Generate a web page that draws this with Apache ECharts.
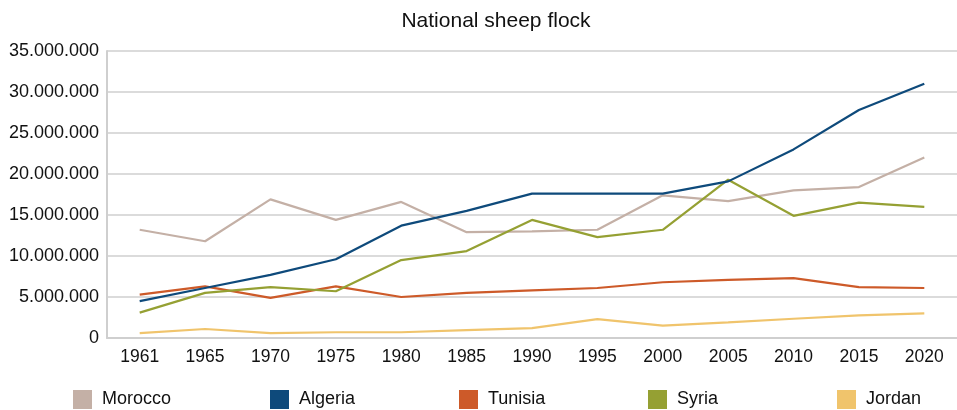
<!DOCTYPE html>
<html>
<head>
<meta charset="utf-8">
<style>
  html, body { margin: 0; padding: 0; background: #ffffff; }
  #chart { width: 957px; height: 410px; }
</style>
<script src="https://cdn.jsdelivr.net/npm/echarts@6/dist/echarts.min.js"></script>
</head>
<body>
<div id="chart"></div>
<script>
// Sheep head counts per country, 1961–2020
const years = ['1961', '1965', '1970', '1975', '1980', '1985', '1990', '1995', '2000', '2005', '2010', '2015', '2020'];
const morocco = [13200000, 11800000, 16900000, 14400000, 16600000, 12900000, 13000000, 13200000, 17400000, 16700000, 18000000, 18400000, 22000000];
const algeria = [4500000, 6100000, 7700000, 9600000, 13700000, 15500000, 17600000, 17600000, 17600000, 19100000, 23000000, 27800000, 31000000];
const tunisia = [5300000, 6300000, 4900000, 6300000, 5000000, 5500000, 5800000, 6100000, 6800000, 7100000, 7300000, 6200000, 6100000];
const syria = [3100000, 5500000, 6200000, 5700000, 9500000, 10600000, 14400000, 12300000, 13200000, 19300000, 14900000, 16500000, 16000000];
const jordan = [600000, 1100000, 600000, 700000, 700000, 950000, 1200000, 2300000, 1500000, 1900000, 2350000, 2750000, 3000000];

const countries = ['Morocco', 'Algeria', 'Tunisia', 'Syria', 'Jordan'];
const values = [morocco, algeria, tunisia, syria, jordan];
const colors = ['#c4b0a6', '#0e4a7b', '#cd5a29', '#95a033', '#f0c46c'];
const legendLefts = [73, 270, 459, 648, 837];

const FONT = '"Liberation Sans", Arial, Helvetica, sans-serif';

function dotted(v) {
  return String(v).replace(/\B(?=(\d{3})+(?!\d))/g, '.');
}

const chart = echarts.init(document.getElementById('chart'), null, { renderer: 'canvas' });

chart.setOption({
  animation: false,
  backgroundColor: '#ffffff',
  color: colors,
  title: {
    text: 'National sheep flock',
    left: 491,
    textAlign: 'center',
    top: 6,
    textStyle: { fontFamily: FONT, fontSize: 21, fontWeight: 'normal', color: '#111111' }
  },
  legend: countries.map((name, i) => ({
    data: [name],
    left: legendLefts[i],
    top: 390,
    icon: 'rect',
    itemWidth: 19,
    itemHeight: 19,
    itemGap: 0,
    padding: 0,
    selectedMode: false,
    textStyle: { fontFamily: FONT, fontSize: 18, color: '#111111', padding: [0, 0, 0, 5] }
  })),
  grid: { left: 107, top: 51, width: 861, height: 287, containLabel: false },
  xAxis: {
    type: 'category',
    data: years,
    boundaryGap: true,
    axisLine: { show: true, lineStyle: { color: '#cfcfcf', width: 2 } },
    axisTick: { show: false },
    axisLabel: { fontFamily: FONT, fontSize: 17.5, color: '#111111', margin: 10 },
    splitLine: { show: false }
  },
  yAxis: {
    type: 'value',
    min: 0,
    max: 35000000,
    interval: 5000000,
    axisLine: { show: true, lineStyle: { color: '#cfcfcf', width: 2 } },
    axisTick: { show: false },
    axisLabel: { fontFamily: FONT, fontSize: 18, color: '#111111', margin: 8, formatter: dotted },
    splitLine: { show: true, lineStyle: { color: '#cfcfcf', width: 1.5 } }
  },
  series: countries.map((name, i) => ({
    name: name,
    type: 'line',
    data: values[i],
    symbol: 'none',
    smooth: false,
    lineStyle: { width: 2.2, color: colors[i] },
    itemStyle: { color: colors[i] },
    z: 2 + (i === 1 ? 1 : 0)
  }))
});
</script>
</body>
</html>
